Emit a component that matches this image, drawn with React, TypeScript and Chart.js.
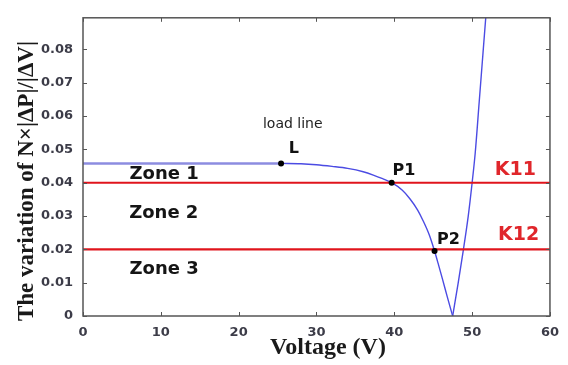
import { useEffect, useRef } from "react";
import { Chart, registerables } from "chart.js";

Chart.register(...registerables);

// ---- data ----
const loadLineV = [0, 25.45];
const loadLineK = [0.0458, 0.0458];

// falling branch (from L down to the minimum)
const fallV = [25.45, 28, 30, 32, 34, 36, 37.3, 38.5, 39.66, 41, 42, 43, 43.7, 44.5, 45.17, 45.7, 46.2, 46.8, 47.5];
const fallK = [0.0458, 0.0457, 0.0454, 0.0449, 0.0443, 0.0433, 0.0423, 0.0412, 0.04, 0.0378, 0.0352, 0.0318, 0.0286, 0.0243, 0.0195, 0.0152, 0.011, 0.0058, 0];

// rising branch (from the minimum upward)
const riseV = [47.5, 48.2, 48.85, 49.5, 50.0, 50.4, 50.9, 51.4, 51.75, 52.0];
const riseK = [0, 0.0098, 0.0195, 0.03, 0.04, 0.049, 0.064, 0.079, 0.0895, 0.097];

const thresholdNames = ["K11", "K12"];
const thresholdK = [0.04, 0.02];
const thresholdV = [0, 60];

const markerNames = ["L", "P1", "P2"];
const markerV = [25.45, 39.66, 45.17];
const markerK = [0.0458, 0.04, 0.0195];

const zoneNames = ["Zone 1", "Zone 2", "Zone 3"];

const xMin = 0, xMax = 60, xStep = 10;
const yMin = 0, yMax = 0.0895, yStep = 0.01;

const xTitle = "Voltage (V)";
const yTitle = "The variation of N×|ΔP|/|ΔV|";

// ---- annotation layout (data-space anchors) ----
const annotations = [
  { text: "load line", x: 26.95, y: 0.0576, font: "14px 'DejaVu Sans'", color: "#222" },
  { text: markerNames[0], x: 27.1, y: 0.0502, font: "bold 16px 'DejaVu Sans'", color: "#111" },
  { text: markerNames[1], x: 41.25, y: 0.0436, font: "bold 16px 'DejaVu Sans'", color: "#111" },
  { text: markerNames[2], x: 46.97, y: 0.0228, font: "bold 16px 'DejaVu Sans'", color: "#111" },
  { text: thresholdNames[0], x: 55.55, y: 0.0438, font: "bold 19px 'DejaVu Sans'", color: "#e0262b" },
  { text: thresholdNames[1], x: 55.97, y: 0.0243, font: "bold 19px 'DejaVu Sans'", color: "#e0262b" },
  { text: zoneNames[0], x: 10.42, y: 0.0425, font: "bold 18px 'DejaVu Sans'", color: "#151515" },
  { text: zoneNames[1], x: 10.38, y: 0.0307, font: "bold 18px 'DejaVu Sans'", color: "#151515" },
  { text: zoneNames[2], x: 10.42, y: 0.0141, font: "bold 18px 'DejaVu Sans'", color: "#151515" },
];

const toPts = (xs: number[], ys: number[]) => xs.map((x, i) => ({ x, y: ys[i] }));

const framePlugin = {
  id: "frame",
  afterDatasetsDraw(chart: any) {
    const { ctx, scales } = chart;
    ctx.save();
    ctx.textAlign = "center";
    ctx.textBaseline = "middle";
    for (const a of annotations) {
      ctx.font = a.font;
      ctx.fillStyle = a.color;
      ctx.fillText(a.text, scales.x.getPixelForValue(a.x), scales.y.getPixelForValue(a.y));
    }
    ctx.restore();
  },
  afterDraw(chart: any) {
    const { ctx, chartArea: ca, scales } = chart;
    ctx.save();
    ctx.strokeStyle = "#555";
    ctx.lineWidth = 1.5;
    ctx.strokeRect(ca.left, ca.top, ca.right - ca.left, ca.bottom - ca.top);
    ctx.lineWidth = 1;
    const len = 4;
    ctx.beginPath();
    for (const t of scales.x.ticks) {
      const px = Math.round(scales.x.getPixelForValue(t.value)) + 0.5;
      ctx.moveTo(px, ca.bottom);
      ctx.lineTo(px, ca.bottom - len);
      ctx.moveTo(px, ca.top);
      ctx.lineTo(px, ca.top + len);
    }
    for (const t of scales.y.ticks) {
      const py = Math.round(scales.y.getPixelForValue(t.value)) + 0.5;
      ctx.moveTo(ca.left, py);
      ctx.lineTo(ca.left + len, py);
      ctx.moveTo(ca.right, py);
      ctx.lineTo(ca.right - len, py);
    }
    ctx.stroke();

    // axis titles
    ctx.fillStyle = "#1a1a1a";
    ctx.textAlign = "center";
    ctx.textBaseline = "middle";
    ctx.font = "bold 24px 'Liberation Serif'";
    ctx.fillText(xTitle, 328, 348);
    ctx.translate(27.5, 181);
    ctx.rotate(-Math.PI / 2);
    ctx.font = "bold 23px 'Liberation Serif'";
    ctx.fillText(yTitle, 0, 0);
    ctx.restore();
  },
};

export default function App() {
  const ref = useRef<HTMLCanvasElement>(null);
  useEffect(() => {
    if (!ref.current) return;
    const tickFont = { family: "'DejaVu Sans'", size: 13, weight: "bold" as const };
    const curveStyle = {
      showLine: true,
      borderColor: "#4b4be3",
      borderWidth: 1.4,
      pointRadius: 0,
      cubicInterpolationMode: "monotone" as const,
    };
    const chart = new Chart(ref.current, {
      type: "scatter",
      data: {
        datasets: [
          {
            label: "markers",
            data: toPts(markerV, markerK),
            showLine: false,
            pointRadius: 3,
            pointBackgroundColor: "#000",
            pointBorderColor: "#000",
            borderWidth: 0,
          },
          {
            label: thresholdNames[0],
            data: toPts(thresholdV, [thresholdK[0], thresholdK[0]]),
            showLine: true,
            borderColor: "#e0141c",
            borderWidth: 2.2,
            pointRadius: 0,
          },
          {
            label: thresholdNames[1],
            data: toPts(thresholdV, [thresholdK[1], thresholdK[1]]),
            showLine: true,
            borderColor: "#e0141c",
            borderWidth: 2.2,
            pointRadius: 0,
          },
          { label: "curve (falling)", data: toPts(fallV, fallK), ...curveStyle },
          { label: "curve (rising)", data: toPts(riseV, riseK), ...curveStyle },
          {
            label: "load line",
            data: toPts(loadLineV, loadLineK),
            showLine: true,
            borderColor: "#8c8ce0",
            borderWidth: 2.5,
            pointRadius: 0,
          },
        ],
      },
      options: {
        animation: false,
        responsive: true,
        maintainAspectRatio: false,
        layout: { padding: { left: 0, top: 14, right: 13, bottom: 0 } },
        plugins: { legend: { display: false }, tooltip: { enabled: false } },
        scales: {
          x: {
            type: "linear",
            min: xMin,
            max: xMax,
            grid: { display: false, drawTicks: false },
            border: { display: false },
            ticks: { stepSize: xStep, font: tickFont, color: "#3c3c48", padding: 9, maxRotation: 0 },
            afterFit: (s: any) => { s.height = 49; },
          },
          y: {
            type: "linear",
            min: yMin,
            max: yMax,
            grid: { display: false, drawTicks: false },
            border: { display: false },
            ticks: {
              stepSize: yStep,
              includeBounds: false,
              font: tickFont,
              color: "#3c3c48",
              padding: 10,
              callback: (v: any) => (Number(v) === 0 ? "0" : Number(v).toFixed(2)),
            },
            afterFit: (s: any) => { s.width = 83; },
          },
        },
      },
      plugins: [framePlugin],
    });
    return () => chart.destroy();
  }, []);
  return (
    <div style={{ position: "fixed", left: 0, top: 0, width: 568, height: 365, background: "#fff" }}>
      <canvas ref={ref} />
    </div>
  );
}
